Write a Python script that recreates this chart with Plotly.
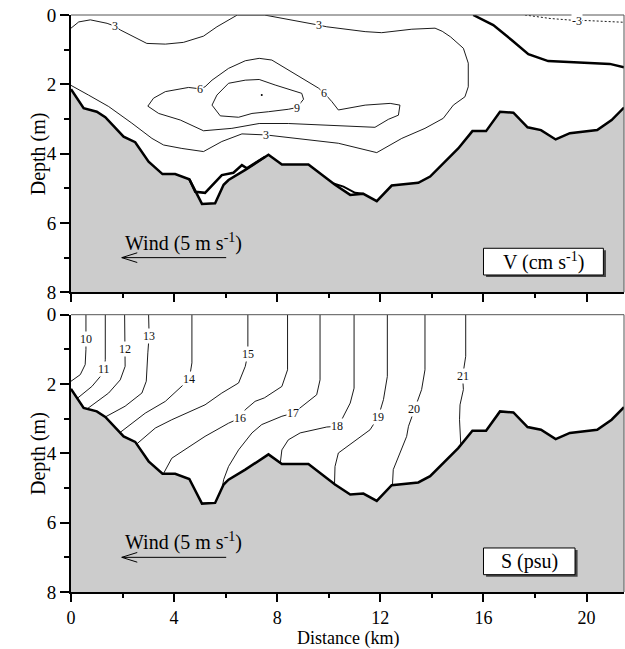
import plotly.graph_objects as go

X_MAX = 21.45
D_MAX = 8.0
FONT = "Liberation Serif"

# ---------------- bathymetry (km, m) ----------------
bathy_x = [0, 0.49, 1.0, 1.33, 2.04, 2.49, 3.01, 3.55, 4.04, 4.59, 5.08, 5.59, 5.92, 6.11, 6.76,
           7.66, 8.18, 9.21, 10.24, 10.83, 11.34, 11.86, 12.44, 13.47, 13.93, 14.31, 15.02, 15.57,
           16.1, 16.64, 17.16, 17.71, 18.23, 18.8, 19.35, 20.41, 20.97, 21.45]
bathy_d = [2.14, 2.69, 2.79, 2.95, 3.51, 3.67, 4.23, 4.59, 4.59, 4.74, 5.45, 5.43, 4.9, 4.76, 4.47,
           4.03, 4.31, 4.31, 4.9, 5.19, 5.16, 5.37, 4.92, 4.84, 4.66, 4.38, 3.85, 3.35,
           3.35, 2.79, 2.82, 3.24, 3.32, 3.59, 3.41, 3.32, 3.03, 2.67]

# ---------------- velocity contours (cm/s) ----------------
v3_x = [0.0, 0.3, 0.75, 1.4, 1.69, 1.91, 2.94, 3.66, 4.36, 5.14, 5.66, 6.37, 6.45, 7.5, 8.43, 9.34,
        9.6, 9.92, 11.41, 12.05, 13.22, 14.12, 14.4, 14.72, 15.22, 15.41, 15.41, 15.28, 14.83, 14.44,
        13.73, 12.83, 11.86, 10.37, 8.82, 8.05, 7.56, 6.63, 5.85, 5.14, 4.3, 3.59, 3.14, 2.36,
        1.46, 0.68, 0.0]
v3_d = [0.38, 0.2, 0.14, 0.24, 0.32, 0.43, 0.82, 0.84, 0.79, 0.61, 0.34, 0.03, 0.0, 0.0, 0.12, 0.24,
        0.29, 0.34, 0.48, 0.51, 0.41, 0.38, 0.47, 0.63, 0.96, 1.39, 2.07, 2.36, 2.6, 2.98,
        3.27, 3.56, 3.97, 3.7, 3.56, 3.51, 3.46, 3.43, 3.65, 3.94, 3.85, 3.75, 3.56, 3.12,
        2.64, 2.31, 2.03]

v6_x = [5.01, 4.56, 3.66, 3.2, 2.98, 3.4, 4.24, 5.14, 6.24, 7.3, 8.43, 11.79, 12.31, 12.7, 12.76,
        12.38, 11.41, 10.37, 10.12, 9.83, 9.6, 8.57, 7.79, 7.3, 6.76, 6.11, 5.47, 5.2, 5.01]
v6_d = [2.13, 2.09, 2.21, 2.4, 2.63, 2.84, 3.03, 3.34, 3.27, 3.13, 3.13, 3.24, 3.01, 2.89, 2.6,
        2.55, 2.6, 2.74, 2.5, 2.26, 2.11, 1.64, 1.3, 1.25, 1.32, 1.54, 1.88, 2.07, 2.13]

v9_x = [5.47, 5.66, 6.11, 6.76, 7.3, 7.92, 8.95, 9.02, 8.76, 8.43, 7.66, 7.02, 6.5, 5.79, 5.47]
v9_d = [2.6, 2.31, 1.97, 1.88, 1.86, 2.02, 2.26, 2.43, 2.67, 2.72, 2.79, 2.84, 2.95, 2.91, 2.6]

v12_x = [7.4]
v12_d = [2.31]

v0_top_x = [15.6, 16.38, 17.09, 17.74, 18.51, 20.0, 20.9, 21.45]
v0_top_d = [0.0, 0.29, 0.72, 1.13, 1.33, 1.37, 1.41, 1.51]

v0_lens1_x = [4.59, 4.82, 5.2, 5.85, 6.3, 6.63, 6.82, 7.53]
v0_lens1_d = [4.74, 5.1, 5.13, 4.62, 4.55, 4.33, 4.42, 4.09]

v0_lens2_x = [10.18, 10.57, 11.02, 11.34]
v0_lens2_d = [4.86, 4.95, 5.13, 5.16]

vm3_x = [17.61, 18.58, 19.6, 20.0, 21.45]
vm3_d = [0.0, 0.1, 0.16, 0.16, 0.21]

v_label_text = ["3", "3", "6", "6", "9", "3", "-3"]
v_label_x = [1.69, 9.6, 5.01, 9.83, 8.76, 7.56, 19.61]
v_label_d = [0.32, 0.29, 2.13, 2.26, 2.67, 3.46, 0.16]

# ---------------- salinity contours (psu) ----------------
s10_x = [0.58, 0.58, 0.55, 0.36, 0.0]
s10_d = [0.0, 1.0, 1.44, 1.73, 1.92]
s11_x = [1.33, 1.33, 1.29, 1.14, 0.81, 0.25]
s11_d = [0.0, 1.3, 1.57, 1.78, 2.07, 2.41]
s12_x = [2.08, 2.08, 2.1, 2.1, 1.91, 1.46, 0.62]
s12_d = [0.0, 0.77, 0.98, 1.49, 1.88, 2.26, 2.72]
s13_x = [3.01, 3.03, 2.98, 2.92, 2.75, 2.1, 1.33]
s13_d = [0.0, 0.61, 1.1, 1.92, 2.26, 2.64, 2.95]
s14_x = [4.69, 4.69, 4.59, 4.36, 3.66, 2.88, 1.9]
s14_d = [0.0, 1.39, 1.85, 2.02, 2.5, 2.84, 3.4]
s15_x = [6.86, 6.86, 6.76, 6.5, 5.85, 5.2, 3.91, 3.27, 2.55]
s15_d = [0.0, 1.13, 1.49, 1.97, 2.26, 2.6, 3.03, 3.27, 3.73]
s16_x = [8.4, 8.4, 8.18, 7.5, 7.14, 6.76, 6.56, 6.11, 5.2, 4.43, 3.91, 3.59]
s16_d = [0.0, 1.59, 2.07, 2.4, 2.5, 2.74, 2.98, 3.13, 3.51, 3.9, 4.14, 4.58]
s17_x = [9.66, 9.66, 9.53, 8.95, 8.63, 8.18, 7.4, 7.02, 6.5, 6.11, 5.92, 5.87]
s17_d = [0.0, 1.88, 2.31, 2.64, 2.84, 2.93, 3.17, 3.41, 3.9, 4.38, 4.76, 4.98]
s18_x = [10.98, 10.98, 10.83, 10.5, 10.31, 9.92, 8.89, 8.43, 8.18, 8.12]
s18_d = [0.0, 2.12, 2.55, 3.03, 3.22, 3.24, 3.41, 3.61, 3.9, 4.27]
s19_x = [12.27, 12.27, 12.12, 11.92, 11.6, 10.89, 10.37, 10.24, 10.22]
s19_d = [0.0, 1.78, 2.45, 2.95, 3.32, 3.7, 3.99, 4.38, 4.92]
s20_x = [13.73, 13.73, 13.6, 13.32, 13.09, 13.02, 12.7, 12.5, 12.47]
s20_d = [0.0, 1.59, 2.16, 2.72, 3.22, 3.51, 4.09, 4.47, 4.9]
s21_x = [15.31, 15.31, 15.19, 15.22, 15.09, 15.07, 15.12]
s21_d = [0.0, 1.2, 1.78, 2.16, 2.6, 3.03, 3.76]

s_label_text = ["10", "11", "12", "13", "14", "15", "16", "17", "18", "19", "20", "21"]
s_label_x = [0.58, 1.29, 2.1, 3.03, 4.59, 6.86, 6.56, 8.63, 10.31, 11.92, 13.32, 15.19]
s_label_d = [0.69, 1.57, 0.98, 0.61, 1.85, 1.13, 2.98, 2.84, 3.22, 2.95, 2.72, 1.78]

# wind arrow (km, m)
wind_x = [6.02, 1.97]
wind_d = 7.0
wind_head_len = 0.6
wind_head_half = 0.14

fig = go.Figure()


def add_line(x, d, xa, ya, width=0.9, dash="solid"):
    fig.add_trace(go.Scatter(x=x, y=d, mode="lines", xaxis=xa, yaxis=ya,
                             line=dict(color="black", width=width, dash=dash),
                             hoverinfo="skip", showlegend=False))


for xa, ya in (("x", "y"), ("x2", "y2")):
    fig.add_trace(go.Scatter(x=bathy_x + [X_MAX, 0], y=bathy_d + [D_MAX, D_MAX],
                             fill="toself", fillcolor="#cccccc", mode="lines",
                             line=dict(width=0, color="#cccccc"), xaxis=xa, yaxis=ya,
                             hoverinfo="skip", showlegend=False))

# top panel contours
add_line(v3_x, v3_d, "x", "y")
add_line(v6_x, v6_d, "x", "y")
add_line(v9_x, v9_d, "x", "y")
add_line(vm3_x, vm3_d, "x", "y", width=0.9, dash="2px,2px")
fig.add_trace(go.Scatter(x=v12_x, y=v12_d, mode="markers", xaxis="x", yaxis="y",
                         marker=dict(color="black", size=2), hoverinfo="skip", showlegend=False))
add_line(v0_top_x, v0_top_d, "x", "y", width=2.5)
add_line(v0_lens1_x, v0_lens1_d, "x", "y", width=2.5)
add_line(v0_lens2_x, v0_lens2_d, "x", "y", width=2)

# bottom panel contours
for sx, sd in ((s10_x, s10_d), (s11_x, s11_d), (s12_x, s12_d), (s13_x, s13_d), (s14_x, s14_d),
               (s15_x, s15_d), (s16_x, s16_d), (s17_x, s17_d), (s18_x, s18_d), (s19_x, s19_d),
               (s20_x, s20_d), (s21_x, s21_d)):
    add_line(sx, sd, "x2", "y2")

for xa, ya in (("x", "y"), ("x2", "y2")):
    add_line(bathy_x, bathy_d, xa, ya, width=2.5)
    # wind arrow
    hx = wind_x[1]
    fig.add_trace(go.Scatter(
        x=[wind_x[0], hx, None, hx + wind_head_len, hx, hx + wind_head_len],
        y=[wind_d, wind_d, None, wind_d - wind_head_half, wind_d, wind_d + wind_head_half],
        mode="lines", xaxis=xa, yaxis=ya, line=dict(color="black", width=1),
        hoverinfo="skip", showlegend=False))

annotations = []
for t, x, d in zip(v_label_text, v_label_x, v_label_d):
    annotations.append(dict(x=x, y=d, xref="x", yref="y", text=t, showarrow=False,
                            bgcolor="white", borderpad=0,
                            font=dict(family=FONT, size=12, color="#111111")))
for t, x, d in zip(s_label_text, s_label_x, s_label_d):
    annotations.append(dict(x=x, y=d, xref="x2", yref="y2", text=t, showarrow=False,
                            bgcolor="white", borderpad=0,
                            font=dict(family=FONT, size=12, color="#111111")))

shapes = []
boxes = (("x", "y", 16.0, 20.65, "V (cm s<sup>-1</sup>)"), ("x2", "y2", 16.0, 19.55, "S (psu)"))
for xa, ya, x0, x1, txt in boxes:
    shapes.append(dict(type="rect", xref=xa, yref=ya, x0=x0 + 0.1, x1=x1 + 0.1, y0=6.79, y1=7.56,
                       fillcolor="#444444", line=dict(width=0)))
    shapes.append(dict(type="rect", xref=xa, yref=ya, x0=x0, x1=x1, y0=6.73, y1=7.5,
                       fillcolor="white", line=dict(color="black", width=1)))
    annotations.append(dict(x=(x0 + x1) / 2, y=7.12, xref=xa, yref=ya, text=txt, showarrow=False,
                            font=dict(family=FONT, size=20, color="black")))
    annotations.append(dict(x=2.0, y=6.55, xref=xa, yref=ya, text="Wind (5 m s<sup>-1</sup>)",
                            showarrow=False, xanchor="left",
                            font=dict(family=FONT, size=20, color="black")))
    # thin top and right frame
    shapes.append(dict(type="line", xref=xa + " domain", yref=ya + " domain", x0=0, x1=1, y0=1, y1=1,
                       line=dict(color="#555555", width=1)))
    shapes.append(dict(type="line", xref=xa + " domain", yref=ya + " domain", x0=1, x1=1, y0=0, y1=1,
                       line=dict(color="#555555", width=1)))
    annotations.append(dict(x=-0.083, y=0.5, xref="paper", yref=ya + " domain", text="Depth (m)",
                            textangle=-90, showarrow=False,
                            font=dict(family=FONT, size=20, color="black")))

annotations.append(dict(x=0.501, y=-0.080, xref="paper", yref="paper", text="Distance (km)",
                        showarrow=False, yanchor="middle",
                        font=dict(family=FONT, size=18, color="black")))

xcommon = dict(range=[0, X_MAX], showline=True, linewidth=2, linecolor="black", ticks="outside",
               ticklen=8, tickwidth=1.5, tickcolor="black", tick0=0, dtick=4, showgrid=False,
               zeroline=False, tickfont=dict(family=FONT, size=18, color="black"),
               minor=dict(ticks="outside", ticklen=4, tickwidth=1.5, tickcolor="black", dtick=2,
                          showgrid=False))
ycommon = dict(range=[D_MAX, 0], showline=True, linewidth=2, linecolor="black", ticks="outside",
               ticklen=9, tickwidth=1.5, tickcolor="black", tick0=0, dtick=2, showgrid=False,
               zeroline=False, tickfont=dict(family=FONT, size=19, color="black"),
               minor=dict(ticks="outside", ticklen=5, tickwidth=1.5, tickcolor="black", dtick=1,
                          showgrid=False))

fig.update_layout(
    width=625, height=649,
    margin=dict(l=71, r=1, t=15, b=57),
    paper_bgcolor="white", plot_bgcolor="white",
    xaxis=dict(domain=[0, 1], anchor="y", showticklabels=False, **xcommon),
    yaxis=dict(domain=[0.5194, 1], anchor="x", **ycommon),
    xaxis2=dict(domain=[0, 1], anchor="y2", showticklabels=True, **xcommon),
    yaxis2=dict(domain=[0, 0.4806], anchor="x2", **ycommon),
    annotations=annotations, shapes=shapes, showlegend=False,
)

fig.write_html("out.html")
